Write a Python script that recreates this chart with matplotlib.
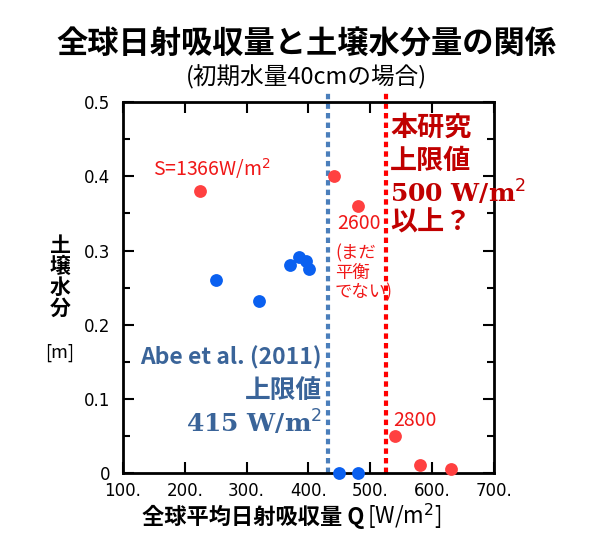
import numpy as np
import matplotlib
matplotlib.use('Agg')
import matplotlib.pyplot as plt
from matplotlib.ticker import MultipleLocator, FuncFormatter

plt.rcParams['font.family'] = ['Noto Sans CJK JP', 'DejaVu Sans']

# data
red_q = [225, 441, 480, 540, 580, 630]
red_w = [0.38, 0.40, 0.36, 0.05, 0.011, 0.006]
blue_q = [250, 320, 370, 385, 396, 401, 450, 480]
blue_w = [0.26, 0.232, 0.28, 0.291, 0.286, 0.275, 0.0, 0.0]
abe_limit = 432
this_limit = 525

fig = plt.figure(figsize=(6, 5.6), dpi=100)
ax = fig.add_axes([0.205, 0.155, 0.618, 0.6625])

ax.scatter(red_q, red_w, s=85, color='#ff4040', zorder=3, clip_on=False, linewidths=0)
ax.scatter(blue_q, blue_w, s=85, color='#0a60f0', zorder=3, clip_on=False, linewidths=0)

ax.plot([abe_limit, abe_limit], [0, 0.515], color='#4a7ebb', lw=3, ls=(0, (1.3, 1)), clip_on=False)
ax.plot([this_limit, this_limit], [0, 0.515], color='#ff0000', lw=3, ls=(0, (1.3, 1)), clip_on=False)

ax.set_xlim(100, 700)
ax.set_ylim(0, 0.5)
ax.xaxis.set_major_locator(MultipleLocator(100))
ax.yaxis.set_major_locator(MultipleLocator(0.1))
ax.yaxis.set_minor_locator(MultipleLocator(0.05))
ax.xaxis.set_major_formatter(FuncFormatter(lambda v, p: '%d.' % v))
ax.yaxis.set_major_formatter(FuncFormatter(lambda v, p: '0' if abs(v) < 1e-9 else '%.1f' % v))
ax.tick_params(which='both', direction='in', top=True, right=True, width=1.5,
               labelsize=12, labelfontfamily='DejaVu Sans')
ax.tick_params(axis='x', which='major', length=8, pad=6.5)
ax.tick_params(axis='y', which='major', length=8, pad=9)
ax.tick_params(which='minor', length=5)
for s in ax.spines.values():
    s.set_linewidth(2)

# titles
fig.text(0.51, 0.92, '全球日射吸収量と土壌水分量の関係', ha='center', va='center',
         fontsize=22.5, fontweight='bold')
fig.text(0.51, 0.862, '(初期水量40cmの場合)', ha='center', va='center', fontsize=17)

# axis labels
fig.text(0.1, 0.505, '土\n壌\n水\n分', ha='center', va='center', fontsize=15,
         fontweight='bold', linespacing=1.0)
fig.text(0.1, 0.37, '[m]', ha='center', va='center', fontsize=13)
fig.text(0.608, 0.077, '全球平均日射吸収量 Q', ha='right', va='center', fontsize=16, fontweight='bold')
fig.text(0.612, 0.077, '[W/m$^2$]', ha='left', va='center', fontsize=16)

# annotations
ax.text(148, 0.411, 'S=1366W/m$^2$', color='#f01818', fontsize=14, ha='left', va='center')
ax.text(446, 0.337, '2600', color='#f01818', fontsize=14, ha='left', va='center')
ax.text(443, 0.309, '(まだ\n平衡\nでない)', color='#f01818', fontsize=12.5, ha='left', va='top',
        linespacing=1.1)
ax.text(538, 0.071, '2800', color='#f01818', fontsize=14, ha='left', va='center')

dred = '#c00000'
ax.text(532, 0.465, '本研究', color=dred, fontsize=19.5, fontweight='bold', ha='left', va='center')
ax.text(532, 0.421, '上限値', color=dred, fontsize=19.5, fontweight='bold', ha='left', va='center')
ax.text(532, 0.377, '500 W/m$^2$', color=dred, fontsize=18, fontweight='bold', ha='left', va='center',
        family='DejaVu Serif')
ax.text(532, 0.338, '以上？', color=dred, fontsize=19.5, fontweight='bold', ha='left', va='center')

blue_t = '#3a6499'
ax.text(422, 0.155, 'Abe et al. (2011)', color=blue_t, fontsize=16.5, fontweight='bold', ha='right', va='center')
ax.text(422, 0.112, '上限値', color=blue_t, fontsize=18.5, fontweight='bold', ha='right', va='center')
ax.text(422, 0.067, '415 W/m$^2$', color=blue_t, fontsize=18, fontweight='bold', ha='right', va='center',
        family='DejaVu Serif')

fig.savefig('out.png', dpi=100)
